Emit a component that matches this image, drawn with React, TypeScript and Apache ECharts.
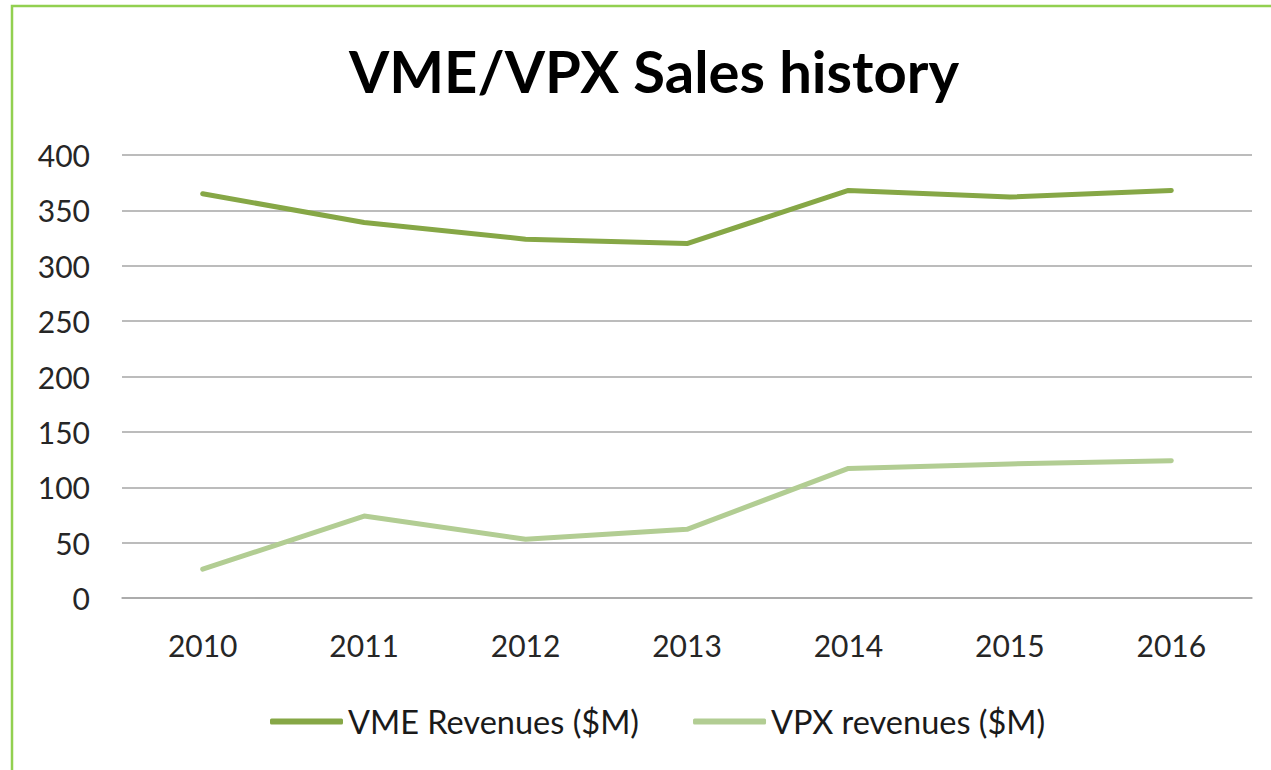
import React, { useEffect, useRef } from "react";
import * as echarts from "echarts";

const years = ["2010", "2011", "2012", "2013", "2014", "2015", "2016"];
const vmeRevenues = [365, 339, 324, 320, 368, 362, 368];
const vpxRevenues = [26, 74, 53, 62, 117, 121, 124];
const seriesNames = ["VME Revenues ($M)", "VPX revenues ($M)"];
const titleText = "VME/VPX Sales history";

const FONT = "Lato";

export default function App() {
  const ref = useRef<HTMLDivElement>(null);
  useEffect(() => {
    if (!ref.current) return;
    const chart = echarts.init(ref.current, null, { renderer: "svg" });
    chart.setOption({
      animation: false,
      backgroundColor: "#ffffff",
      title: {
        text: titleText,
        left: 649,
        textAlign: "center",
        top: 36,
        textStyle: {
          fontFamily: FONT,
          fontWeight: "bold",
          fontSize: 58,
          color: "#000000",
        },
      },
      graphic: [
        {
          type: "rect",
          shape: { x: 12, y: 6, width: 1300, height: 800 },
          style: { fill: "none", stroke: "#92D050", lineWidth: 2.5 },
          silent: true,
        },
      ],
      legend: {
        left: 265,
        top: 700,
        itemWidth: 73,
        itemHeight: 6,
        itemGap: 54,
        icon: "roundRect",
        data: seriesNames,
        textStyle: { fontFamily: FONT, fontSize: 32.5, color: "#1a1a1a" },
      },
      grid: { left: 122, right: 19, top: 155, bottom: 172 },
      xAxis: {
        type: "category",
        data: years,
        boundaryGap: true,
        axisLine: { show: true, lineStyle: { color: "#a6a6a6", width: 1.5 } },
        axisTick: { show: false },
        axisLabel: {
          fontFamily: FONT,
          fontSize: 30,
          color: "#262626",
          margin: 32,
        },
      },
      yAxis: {
        type: "value",
        min: 0,
        max: 400,
        interval: 50,
        axisLine: { show: false },
        axisTick: { show: false },
        splitLine: { lineStyle: { color: "#a6a6a6", width: 1.5 } },
        axisLabel: {
          fontFamily: FONT,
          fontSize: 30,
          color: "#262626",
          margin: 32,
        },
      },
      series: [
        {
          name: seriesNames[0],
          type: "line",
          data: vmeRevenues,
          symbol: "none",
          lineStyle: { color: "#86A746", width: 5, cap: "round", join: "round" },
          itemStyle: { color: "#86A746" },
        },
        {
          name: seriesNames[1],
          type: "line",
          data: vpxRevenues,
          symbol: "none",
          lineStyle: { color: "#B2CD93", width: 5, cap: "round", join: "round" },
          itemStyle: { color: "#B2CD93" },
        },
      ],
    });
    return () => chart.dispose();
  }, []);
  return (
    <div
      ref={ref}
      style={{ position: "absolute", left: 0, top: 0, width: 1271, height: 770 }}
    />
  );
}
